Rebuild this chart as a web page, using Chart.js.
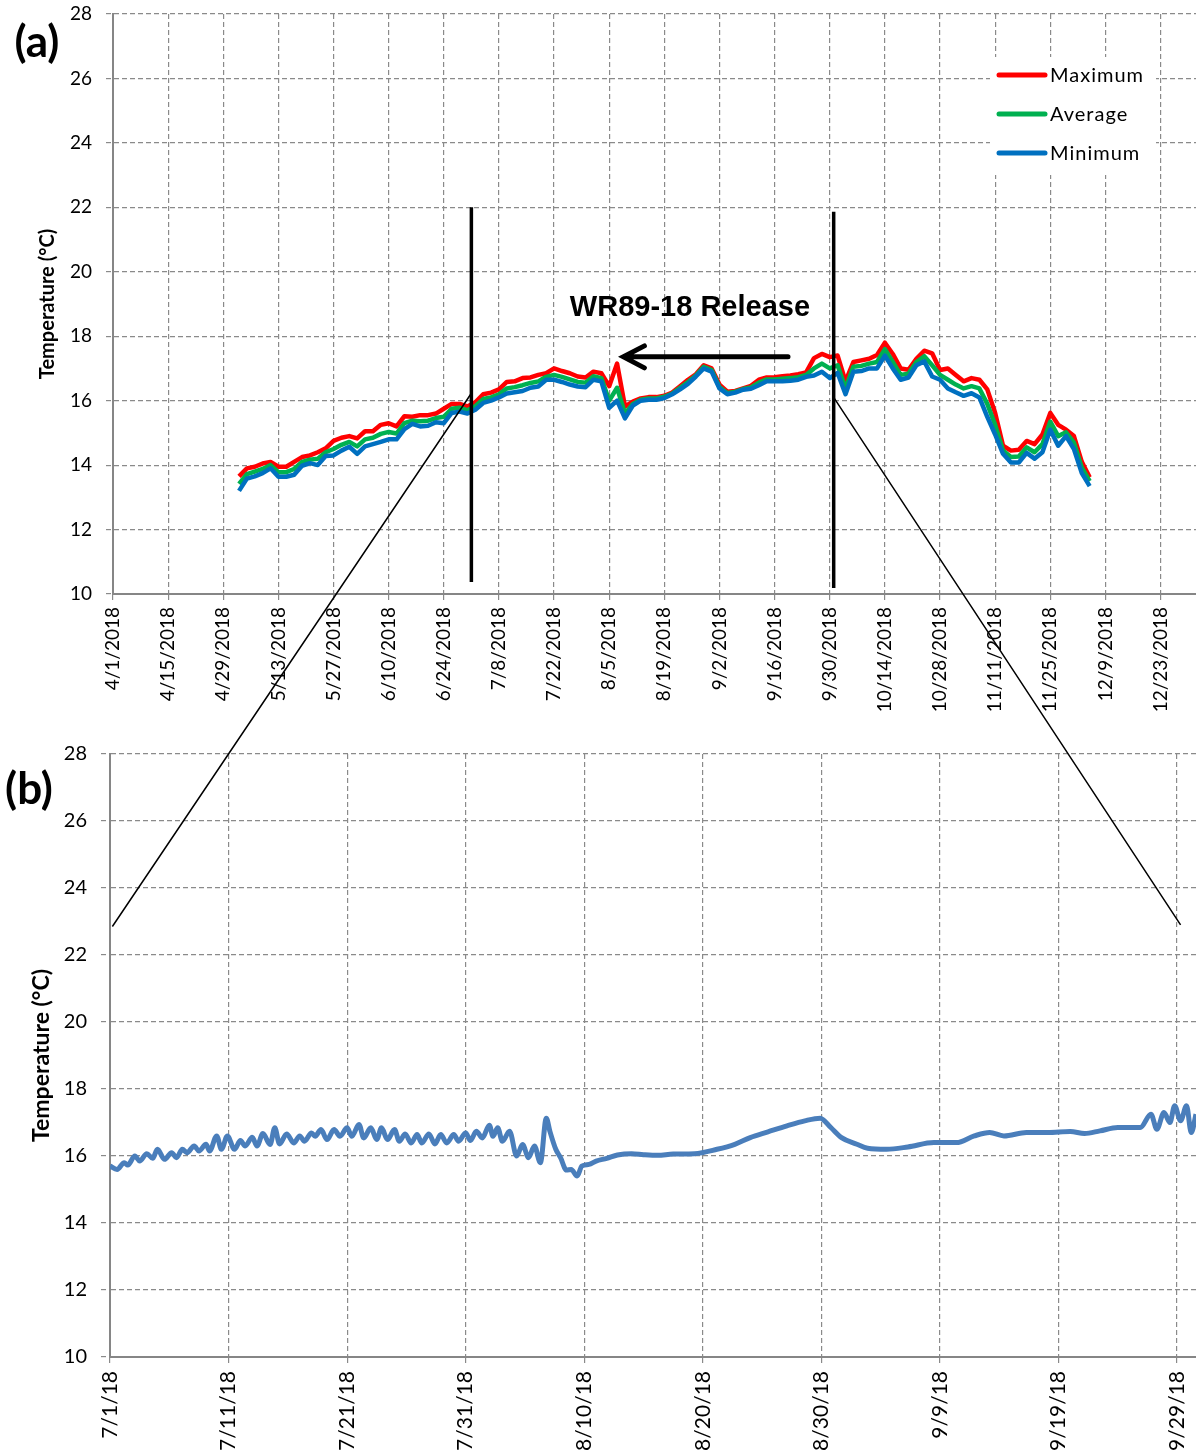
<!DOCTYPE html>
<html>
<head>
<meta charset="utf-8">
<title>Temperature - WR89-18 Release</title>
<script src="https://cdn.jsdelivr.net/npm/chart.js@4.4.1/dist/chart.umd.min.js"></script>
<style>
  html, body { margin: 0; padding: 0; background: #fff; }
  #page { position: relative; width: 1196px; height: 1456px; overflow: hidden; }
  #chartA { position: absolute; left: 0; top: 0; }
  #chartB { position: absolute; left: 0; top: 740px; }
  #overlay { position: absolute; left: 0; top: 0; pointer-events: none; }
</style>
</head>
<body>
<div id="page">
  <canvas id="chartA" width="1196" height="720"></canvas>
  <canvas id="chartB" width="1196" height="716"></canvas>
  <canvas id="overlay" width="1196" height="1456"></canvas>
</div>
<script>
// (a) daily readings, x = days counted from 4/1/2018
const topDays = [32, 34, 36, 38, 40, 42, 44, 46, 48, 50,
  52, 54, 56, 58, 60, 62, 64, 66, 68, 70,
  72, 74, 76, 78, 80, 82, 84, 86, 88, 90,
  92, 94, 96, 98, 100, 102, 104, 106, 108, 110,
  112, 114, 116, 118, 120, 122, 124, 126, 128, 130,
  132, 134, 136, 138, 140, 142, 144, 146, 148, 150,
  152, 154, 156, 158, 160, 162, 164, 166, 168, 170,
  172, 174, 176, 178, 180, 182, 184, 186, 188, 190,
  192, 194, 196, 198, 200, 202, 204, 206, 208, 210,
  212, 214, 216, 218, 220, 222, 224, 226, 228, 230,
  232, 234, 236, 238, 240, 242, 244, 246, 248];

const tempMax = [13.65, 13.9, 13.95, 14.05, 14.1, 13.95, 13.95, 14.1, 14.25, 14.3,
  14.4, 14.52, 14.75, 14.85, 14.9, 14.83, 15.05, 15.05, 15.25, 15.3,
  15.2, 15.52, 15.5, 15.55, 15.55, 15.6, 15.75, 15.9, 15.9, 15.82,
  15.95, 16.2, 16.25, 16.35, 16.58, 16.6, 16.7, 16.72, 16.8, 16.85,
  17.0, 16.92, 16.85, 16.75, 16.72, 16.9, 16.85, 16.45, 17.15, 15.82,
  15.97, 16.07, 16.11, 16.11, 16.15, 16.25, 16.45, 16.65, 16.82, 17.1,
  17.0, 16.5, 16.28, 16.3, 16.38, 16.46, 16.65, 16.72, 16.73, 16.76,
  16.78, 16.82, 16.88, 17.32, 17.45, 17.35, 17.4, 16.6, 17.2, 17.25,
  17.3, 17.42, 17.8, 17.45, 17.0, 16.96, 17.3, 17.55, 17.47, 16.95,
  17.0, 16.8, 16.6, 16.7, 16.65, 16.35, 15.62, 14.6, 14.45, 14.48,
  14.75, 14.65, 14.95, 15.62, 15.25, 15.1, 14.9, 14.1, 13.62];

const tempAvg = [13.42, 13.72, 13.8, 13.88, 14.0, 13.78, 13.78, 13.88, 14.1, 14.17,
  14.2, 14.4, 14.5, 14.63, 14.72, 14.58, 14.8, 14.85, 14.97, 15.03,
  14.98, 15.3, 15.38, 15.36, 15.38, 15.46, 15.5, 15.75, 15.78, 15.7,
  15.83, 16.05, 16.1, 16.2, 16.38, 16.42, 16.48, 16.55, 16.6, 16.74,
  16.8, 16.74, 16.66, 16.58, 16.56, 16.76, 16.7, 16.0, 16.4, 15.6,
  15.9, 16.03, 16.07, 16.07, 16.12, 16.22, 16.4, 16.58, 16.78, 17.05,
  16.95, 16.42, 16.23, 16.28, 16.36, 16.41, 16.56, 16.66, 16.66, 16.68,
  16.7, 16.73, 16.8, 17.0, 17.15, 17.0, 17.1, 16.38, 17.05, 17.08,
  17.15, 17.2, 17.6, 17.2, 16.8, 16.84, 17.2, 17.38, 17.1, 16.8,
  16.65, 16.5, 16.38, 16.45, 16.38, 15.9, 15.25, 14.45, 14.25, 14.27,
  14.55, 14.4, 14.65, 15.35, 14.9, 15.02, 14.7, 13.92, 13.5];

const tempMin = [13.2, 13.58, 13.65, 13.75, 13.9, 13.64, 13.64, 13.7, 13.98, 14.06,
  14.0, 14.28, 14.3, 14.45, 14.57, 14.35, 14.58, 14.65, 14.72, 14.8,
  14.8, 15.12, 15.28, 15.2, 15.22, 15.33, 15.3, 15.62, 15.66, 15.6,
  15.72, 15.93, 16.0, 16.1, 16.22, 16.26, 16.3, 16.4, 16.44, 16.65,
  16.65, 16.58, 16.5, 16.44, 16.42, 16.65, 16.6, 15.78, 16.0, 15.45,
  15.85, 16.0, 16.03, 16.03, 16.08, 16.2, 16.35, 16.52, 16.75, 17.0,
  16.9, 16.38, 16.2, 16.25, 16.34, 16.37, 16.48, 16.6, 16.6, 16.6,
  16.62, 16.65, 16.74, 16.78, 16.9, 16.7, 16.86, 16.2, 16.9, 16.92,
  17.0, 17.0, 17.4, 17.0, 16.65, 16.72, 17.1, 17.22, 16.75, 16.65,
  16.38, 16.26, 16.15, 16.23, 16.1, 15.5, 14.95, 14.35, 14.08, 14.08,
  14.38, 14.2, 14.4, 15.1, 14.6, 14.9, 14.5, 13.75, 13.35];

const topTickLabels = ['4/1/2018', '4/15/2018', '4/29/2018', '5/13/2018', '5/27/2018',
  '6/10/2018', '6/24/2018', '7/8/2018', '7/22/2018', '8/5/2018', '8/19/2018',
  '9/2/2018', '9/16/2018', '9/30/2018', '10/14/2018', '10/28/2018', '11/11/2018',
  '11/25/2018', '12/9/2018', '12/23/2018'];

// (b) sub-daily readings, x = days counted from 7/1/18
const bottomDays = [0.0, 0.6, 1.2, 1.5, 2.1, 2.5, 3.1, 3.6, 4.0, 4.6,
  5.2, 5.6, 6.1, 6.5, 7.1, 7.5, 8.1, 8.4, 9.0, 9.4,
  9.9, 10.5, 11.0, 11.4, 12.0, 12.4, 12.9, 13.5, 13.9, 14.3,
  14.9, 15.5, 16.0, 16.4, 17.0, 17.3, 17.8, 18.3, 18.9, 19.4,
  20.0, 20.4, 21.0, 21.4, 22.0, 22.5, 22.9, 23.4, 24.0, 24.4,
  24.9, 25.4, 25.9, 26.3, 26.9, 27.4, 27.9, 28.4, 29.0, 29.4,
  30.0, 30.4, 30.9, 31.4, 32.0, 32.3, 32.7, 33.1, 33.7, 34.3,
  34.8, 35.3, 35.8, 36.3, 36.8, 37.1, 37.6, 38.0, 38.5, 38.9,
  39.4, 39.8, 40.4, 41.0, 41.9, 42.8, 44.0, 45.0, 46.2, 47.5,
  49.3, 51.2, 52.7, 54.0, 55.5, 57.1, 58.6, 59.9, 60.8, 61.7,
  63.0, 63.9, 65.5, 67.3, 69.5, 71.4, 72.9, 74.2, 75.4, 77.3,
  79.1, 81.0, 82.2, 83.5, 85.0, 86.9, 87.8, 88.3, 88.9, 89.4,
  89.8, 90.3, 90.8, 91.2, 91.6];

const tempHourly = [15.7, 15.6, 15.8, 15.73, 16.0, 15.85, 16.07, 15.93, 16.2, 15.9,
  16.1, 15.95, 16.2, 16.1, 16.3, 16.15, 16.35, 16.15, 16.6, 16.2,
  16.6, 16.2, 16.46, 16.3, 16.56, 16.3, 16.67, 16.34, 16.84, 16.36,
  16.66, 16.39, 16.6, 16.44, 16.69, 16.59, 16.79, 16.49, 16.79, 16.59,
  16.84, 16.59, 16.94, 16.54, 16.84, 16.49, 16.84, 16.49, 16.79, 16.44,
  16.66, 16.39, 16.64, 16.39, 16.66, 16.36, 16.64, 16.39, 16.64, 16.44,
  16.69, 16.46, 16.74, 16.54, 16.92, 16.59, 16.84, 16.44, 16.74, 16.0,
  16.34, 15.95, 16.3, 15.8, 17.13, 16.74, 16.2, 15.95, 15.58, 15.6,
  15.4, 15.7, 15.75, 15.85, 15.93, 16.03, 16.07, 16.04, 16.02, 16.06,
  16.07, 16.2, 16.35, 16.55, 16.72, 16.9, 17.05, 17.13, 16.85, 16.55,
  16.35, 16.23, 16.2, 16.27, 16.4, 16.4, 16.6, 16.7, 16.6, 16.7,
  16.7, 16.73, 16.67, 16.75, 16.85, 16.85, 17.25, 16.8, 17.3, 17.0,
  17.5, 17.05, 17.5, 16.7, 17.25];

const bottomTickLabels = ['7/1/18', '7/11/18', '7/21/18', '7/31/18', '8/10/18',
  '8/20/18', '8/30/18', '9/9/18', '9/19/18', '9/29/18'];

// release window marked on (a), and where the zoom lines land on (b)
const releaseStart = 91;   // 7/1/2018
const releaseEnd = 183;    // 10/1/2018

const gridGray = '#8a8a8a';
const axisGray = '#868686';
const tickFont = { family: 'Lato', size: 19 };

function xy(xs, ys) {
  return ys.map((v, i) => ({ x: xs[i], y: v }));
}

function scaleStyle(tickLen) {
  return {
    grid: { color: gridGray, lineWidth: 1.2, tickLength: tickLen, tickColor: gridGray, tickBorderDash: [5, 3] },
    border: { display: true, color: axisGray, width: 2, dash: [5, 3] }
  };
}

// legend drawn inside the plot, top right, on a white box
const boxLegend = {
  id: 'boxLegend',
  afterDraw(chart) {
    const ctx = chart.ctx;
    const area = chart.chartArea;
    const left = area.right - 206, top = area.top + 43;
    ctx.save();
    ctx.fillStyle = '#fff';
    ctx.fillRect(left, top, 166, 118);
    ctx.font = '20px Lato';
    ctx.letterSpacing = '1px';
    ctx.textBaseline = 'middle';
    chart.data.datasets.forEach((ds, i) => {
      const y = top + 18 + i * 39;
      ctx.strokeStyle = ds.borderColor;
      ctx.lineWidth = 5;
      ctx.lineCap = 'round';
      ctx.beginPath();
      ctx.moveTo(left + 9, y);
      ctx.lineTo(left + 55, y);
      ctx.stroke();
      ctx.fillStyle = '#000';
      ctx.fillText(ds.label, left + 60, y + 1);
    });
    ctx.restore();
  }
};

// release markers, caption and arrow on (a)
const releaseMarks = {
  id: 'releaseMarks',
  afterDatasetsDraw(chart) {
    const ctx = chart.ctx;
    const x = chart.scales.x, y = chart.scales.y;
    ctx.save();
    ctx.strokeStyle = '#000';
    ctx.lineWidth = 3.5;
    ctx.beginPath();
    ctx.moveTo(x.getPixelForValue(releaseStart), y.getPixelForValue(22));
    ctx.lineTo(x.getPixelForValue(releaseStart), y.getPixelForValue(10.37));
    ctx.moveTo(x.getPixelForValue(releaseEnd), y.getPixelForValue(21.86));
    ctx.lineTo(x.getPixelForValue(releaseEnd), y.getPixelForValue(10.19));
    ctx.stroke();

    ctx.fillStyle = '#000';
    ctx.font = 'bold 29px "Liberation Sans"';
    ctx.textAlign = 'center';
    ctx.textBaseline = 'middle';
    ctx.fillText('WR89-18 Release', x.getPixelForValue(146.5), y.getPixelForValue(18.88));

    const ay = y.getPixelForValue(17.36);
    const tip = x.getPixelForValue(129.6);
    ctx.lineWidth = 5;
    ctx.lineCap = 'round';
    ctx.beginPath();
    ctx.moveTo(x.getPixelForValue(171.4), ay);
    ctx.lineTo(tip + 2, ay);
    ctx.moveTo(tip + 21, ay - 11);
    ctx.lineTo(tip, ay);
    ctx.lineTo(tip + 21, ay + 11);
    ctx.stroke();
    ctx.restore();
  }
};

function panelLabel(text, cx, cy) {
  return {
    id: 'panelLabel',
    afterDraw(chart) {
      const ctx = chart.ctx;
      ctx.save();
      ctx.fillStyle = '#000';
      ctx.font = 'bold 44px Lato';
      ctx.textAlign = 'center';
      ctx.textBaseline = 'middle';
      ctx.fillText(text, cx, cy);
      ctx.restore();
    }
  };
}

const chartA = new Chart(document.getElementById('chartA'), {
  type: 'line',
  data: {
    datasets: [
      { label: 'Maximum', data: xy(topDays, tempMax), borderColor: '#ff0000', order: 3 },
      { label: 'Average', data: xy(topDays, tempAvg), borderColor: '#00b050', order: 2 },
      { label: 'Minimum', data: xy(topDays, tempMin), borderColor: '#0070c0', order: 1 }
    ]
  },
  options: {
    responsive: false,
    animation: false,
    layout: { padding: { top: 14, left: 0, right: 0, bottom: 0 } },
    elements: { point: { radius: 0 }, line: { borderWidth: 4.5, tension: 0, borderJoinStyle: 'round' } },
    plugins: { legend: { display: false }, tooltip: { enabled: false } },
    scales: {
      x: Object.assign({
        type: 'linear', min: 0, max: 275,
        afterFit: s => { s.height = 126; s.paddingLeft = 0; s.paddingRight = 0; },
        ticks: {
          stepSize: 14, includeBounds: false, autoSkip: false,
          minRotation: 90, maxRotation: 90, padding: 7,
          color: '#000', font: tickFont,
          callback: (v, i) => topTickLabels[i]
        }
      }, scaleStyle(6)),
      y: Object.assign({
        min: 10, max: 28,
        afterFit: s => { s.width = 113; s.paddingTop = 0; s.paddingBottom = 0; },
        ticks: { stepSize: 2, padding: 14, color: '#000', font: tickFont },
        title: {
          display: true, text: 'Temperature (°C)', color: '#000',
          font: { family: 'Lato', size: 20, weight: 'bold' },
          padding: { top: 36, bottom: 0 }
        }
      }, scaleStyle(7))
    }
  },
  plugins: [releaseMarks, boxLegend, panelLabel('(a)', 37, 43)]
});

const chartB = new Chart(document.getElementById('chartB'), {
  type: 'line',
  data: {
    datasets: [
      { label: 'Temperature', data: xy(bottomDays, tempHourly), borderColor: '#4a7ebb',
        borderWidth: 5, cubicInterpolationMode: 'monotone' }
    ]
  },
  options: {
    responsive: false,
    animation: false,
    layout: { padding: { top: 14, left: 0, right: 0, bottom: 0 } },
    elements: { point: { radius: 0 } },
    plugins: { legend: { display: false }, tooltip: { enabled: false } },
    scales: {
      x: Object.assign({
        type: 'linear', min: 0, max: 91.6,
        afterFit: s => { s.height = 99; s.paddingLeft = 0; s.paddingRight = 0; },
        ticks: {
          stepSize: 10, includeBounds: false, autoSkip: false,
          minRotation: 90, maxRotation: 90, padding: 6,
          color: '#000', font: { family: 'Lato', size: 21 },
          callback: (v, i) => bottomTickLabels[i]
        }
      }, scaleStyle(8)),
      y: Object.assign({
        min: 10, max: 28,
        afterFit: s => { s.width = 110; s.paddingTop = 0; s.paddingBottom = 0; },
        ticks: { stepSize: 2, padding: 14, color: '#000', font: { family: 'Lato', size: 20 } },
        title: {
          display: true, text: 'Temperature (°C)', color: '#000',
          font: { family: 'Lato', size: 23, weight: 'bold' },
          padding: { top: 28, bottom: 0 }
        }
      }, scaleStyle(9))
    }
  },
  plugins: [panelLabel('(b)', 29, 50)]
});

// thin lines tying the release window on (a) to the zoomed panel (b)
const ov = document.getElementById('overlay').getContext('2d');
const offsetB = 740;
function zoomLine(dayA, tempA, dayB, tempB) {
  ov.moveTo(chartA.scales.x.getPixelForValue(dayA), chartA.scales.y.getPixelForValue(tempA));
  ov.lineTo(chartB.scales.x.getPixelForValue(dayB), offsetB + chartB.scales.y.getPixelForValue(tempB));
}
ov.strokeStyle = '#000';
ov.lineWidth = 1.5;
ov.beginPath();
zoomLine(releaseStart, 16.23, 0.2, 22.85);
zoomLine(releaseEnd, 16.1, 90.3, 22.9);
ov.stroke();
</script>
</body>
</html>
